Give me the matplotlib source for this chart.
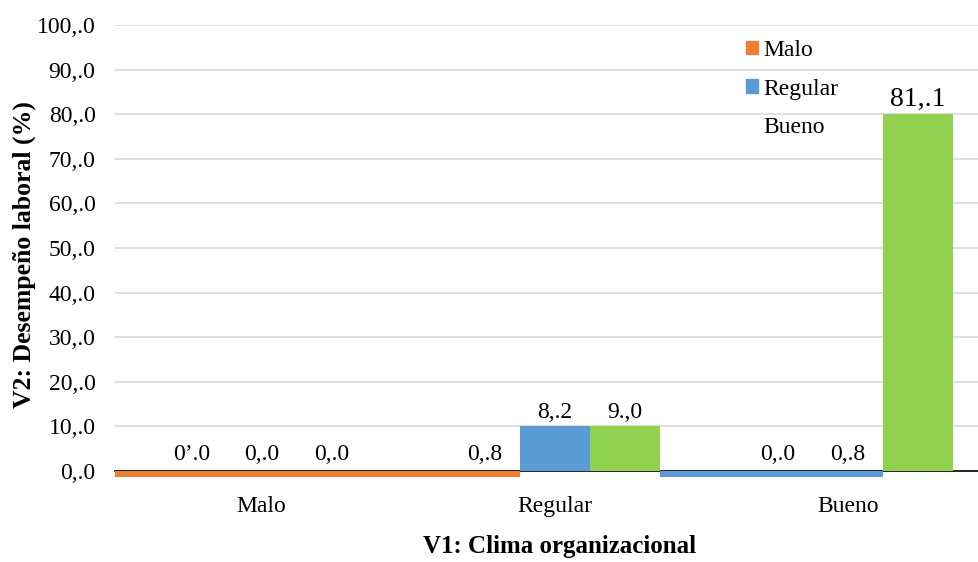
import matplotlib.pyplot as plt
from matplotlib.patches import Patch

plt.rcParams['font.family'] = ['Liberation Serif', 'DejaVu Serif']

# categories on the x axis (V1) and the series (V2 levels)
categories = ['Malo', 'Regular', 'Bueno']
series = ['Malo', 'Regular', 'Bueno']
colors = ['#ED7D31', '#5B9BD5', '#92D050']

# bar heights as drawn, one list per series (over the categories)
heights = [
    [0, 0, 0],      # Malo
    [0, 10, 0],     # Regular
    [0, 10, 80],    # Bueno
]

# data labels as printed on the chart
labels = [
    ['0\u2019.0', '0,.8', '0,.0'],
    ['0,.0', '8,.2', '0,.8'],
    ['0,.0', '9.,0', '81,.1'],
]

# thin strips under the axis: (series index, from (cat, slot edge), to (cat, slot edge))
strip_value = -1.3
strips = [
    (0, (0, 'left'), (1, 0)),   # orange: from start of Malo to end of Regular/orange slot
    (1, (1, 2), (2, 1)),        # blue: from end of Regular/green slot to end of Bueno/blue slot
]

yticks = list(range(0, 101, 10))
ytick_labels = ['%d,.0' % v for v in yticks]

bar_w = 0.239
offsets = [-bar_w, 0, bar_w]

fig = plt.figure(figsize=(9.79, 5.62), dpi=100)
ax = fig.add_axes([0.1175, 0.162, 0.898, 0.7935])

for s in range(3):
    for c in range(3):
        x = c + offsets[s]
        h = heights[s][c]
        if h > 0:
            ax.bar(x, h, width=bar_w, color=colors[s], zorder=3)
        ax.annotate(labels[s][c], (x, max(h, 0)), xytext=(0, 8 if h == 0 else 6),
                    textcoords='offset points', ha='center', va='baseline',
                    fontsize=20 if h > 50 else 17)


def edge(spec):
    c, slot = spec
    if slot == 'left':
        return c - 0.5
    return c + offsets[slot] + bar_w / 2


for s, a, b in strips:
    x0, x1 = edge(a), edge(b)
    ax.bar(x0, strip_value, width=x1 - x0, align='edge', color=colors[s],
           zorder=4, clip_on=False)

ax.set_xlim(-0.5, 2.5)
ax.set_ylim(0, 100)
ax.set_yticks(yticks)
ax.set_yticklabels(ytick_labels)
ax.set_xticks(range(3))
ax.set_xticklabels(categories)
ax.tick_params(axis='y', length=0, pad=14, labelsize=17)
ax.tick_params(axis='x', length=0, pad=18, labelsize=17)
ax.yaxis.grid(True, color='#D9D9D9', linewidth=1.2)
ax.set_axisbelow(True)
for side in ['top', 'right', 'left']:
    ax.spines[side].set_visible(False)
ax.spines['bottom'].set_color('black')
ax.spines['bottom'].set_linewidth(1.2)

fig.text(560 / 979, 1 - 547 / 562, 'V1: Clima organizacional', ha='center',
         va='center', fontsize=18, fontweight='bold')
fig.text(24 / 979, 1 - 255 / 562, 'V2: Desempe\u00f1o laboral (%)', ha='center',
         va='center', rotation=90, fontsize=18.5, fontweight='bold')

handles = [Patch(color=colors[0]), Patch(color=colors[1]),
           Patch(facecolor='none', edgecolor='none')]
ax.legend(handles, series, loc='upper left', bbox_to_anchor=(734 / 979, 1 - 28 / 562),
          bbox_transform=fig.transFigure, frameon=False, fontsize=17,
          handlelength=0.5, handleheight=0.5, handletextpad=0.25,
          labelspacing=0.75, borderpad=0)

fig.savefig('out.png', dpi=100)
